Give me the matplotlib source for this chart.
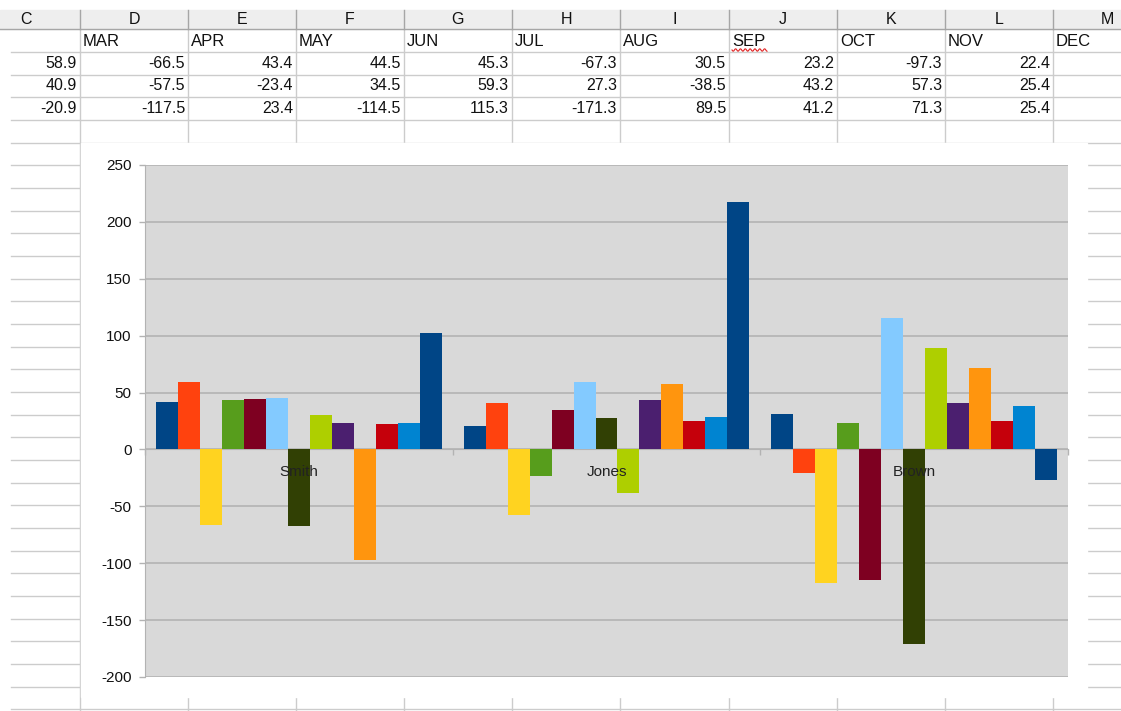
import numpy as np
import matplotlib
matplotlib.use("Agg")
import matplotlib.pyplot as plt
from matplotlib.patches import Rectangle

plt.rcParams['font.family'] = ['Liberation Sans', 'DejaVu Sans']
plt.rcParams['axes.unicode_minus'] = False

# chart data: one bar series per column, grouped by person
people = ["Smith", "Jones", "Brown"]
series = ["JAN", "FEB", "MAR", "APR", "MAY", "JUN", "JUL",
          "AUG", "SEP", "OCT", "NOV", "DEC", "N"]
smith = [41.6, 58.9, -66.5, 43.4, 44.5, 45.3, -67.3, 30.5, 23.2, -97.3, 22.4, 23.4, 102.1]
jones = [20.5, 40.9, -57.5, -23.4, 34.5, 59.3, 27.3, -38.5, 43.2, 57.3, 25.4, 28.4, 217.3]
brown = [31.5, -20.9, -117.5, 23.4, -114.5, 115.3, -171.3, 89.5, 41.2, 71.3, 25.4, 38.0, -26.6]

# LibreOffice default chart palette
colors = ["#004586", "#ff420e", "#ffd320", "#579d1c", "#7e0021", "#83caff",
          "#314004", "#aecf00", "#4b1f6f", "#ff950e", "#c5000b", "#0084d1",
          "#004586"]

# visible part of the sheet
col_letters = ["C", "D", "E", "F", "G", "H", "I", "J", "K", "L", "M"]
col_heads = ["", "MAR", "APR", "MAY", "JUN", "JUL", "AUG", "SEP", "OCT", "NOV", "DEC"]
table_rows = [smith[1:11], jones[1:11], brown[1:11]]

W, H = 1121, 711
fig = plt.figure(figsize=(W / 100, H / 100), dpi=100)

# ---- spreadsheet background, pixel coordinates ----
bg = fig.add_axes([0, 0, 1, 1])
bg.set_xlim(0, W)
bg.set_ylim(H, 0)
bg.axis('off')

edges = [-28, 80, 188, 296, 404, 512, 620, 729, 837, 945, 1053, 1161]
head_top, head_bot = 10, 29.3
row_h = 22.67
grid_c = "#cccccc"

bg.add_patch(Rectangle((0, head_top), W, head_bot - head_top, color="#eeeeee", zorder=1))
bg.plot([0, W], [head_bot, head_bot], color="#a6a6a6", lw=1, zorder=2)
for e in edges[1:-1]:
    bg.plot([e, e], [head_top, head_bot], color="#a6a6a6", lw=1, zorder=2)
    bg.plot([e, e], [head_bot, H], color=grid_c, lw=1, zorder=1)

y = head_bot + row_h
while y < H:
    bg.plot([11, W], [y, y], color=grid_c, lw=1, zorder=1)
    y += row_h

for i, let in enumerate(col_letters):
    cx = (edges[i] + edges[i + 1]) / 2
    bg.text(cx, 19.5, let, ha="center", va="center", fontsize=11.5, color="#111111", zorder=3)
    bg.text(edges[i] + 3, head_bot + row_h / 2 + 0.5, col_heads[i], ha="left", va="center",
            fontsize=12, color="#111111", zorder=3)

for r, vals in enumerate(table_rows):
    yc = head_bot + row_h * (r + 1.5)
    for i, v in enumerate(vals):
        bg.text(edges[i + 1] - 3, yc, f"{v:.1f}", ha="right", va="center",
                fontsize=11.5, color="#111111", zorder=3)

# spell-check squiggle under SEP
sx = np.linspace(edges[7] + 3, edges[7] + 38, 60)
bg.plot(sx, 50 + 1.2 * np.sin((sx - sx[0]) * 1.3), color="#e02020", lw=0.8, zorder=3)

# chart object sits on top of the cells
bg.add_patch(Rectangle((81, 143), 1006, 554, color="white", zorder=5))

# ---- the chart ----
left, right, top, bottom = 145, 1068, 165, 677
ax = fig.add_axes([left / W, 1 - bottom / H, (right - left) / W, (bottom - top) / H])
ax.set_facecolor("#d9d9d9")

data = np.array([smith, jones, brown])
n = len(series)
w = 1.0 / (n + 1)
x = np.arange(len(people))
for j in range(n):
    ax.bar(x + (j - (n - 1) / 2) * w, data[:, j], width=w, color=colors[j],
           label=series[j], zorder=3, linewidth=0)

ax.set_xlim(-0.5, len(people) - 0.5)
ax.set_ylim(-200, 250)
ax.set_yticks(np.arange(-200, 251, 50))
ax.yaxis.grid(True, color="#b3b3b3", lw=1.2)
ax.yaxis.set_zorder(0.5)
ax.tick_params(axis="y", length=4.5, width=1, color="#b3b3b3", pad=5,
               labelsize=11, labelcolor="#111111")

ax.set_xticks(np.arange(-0.5, len(people)), labels=[])
ax.set_xticks(x, labels=people, minor=True)
ax.tick_params(axis="x", which="major", length=4.5, width=1, color="#b3b3b3", direction="out")
ax.tick_params(axis="x", which="minor", length=0, pad=11, labelsize=11, labelcolor="#222222")
ax.xaxis.set_zorder(4)

for s in ["top", "right"]:
    ax.spines[s].set_visible(False)
ax.spines["bottom"].set_position(("data", 0))
ax.spines["bottom"].set_color("#b3b3b3")
ax.spines["bottom"].set_zorder(2)
ax.spines["left"].set_color("#b3b3b3")

fig.savefig("out.png", dpi=100)
